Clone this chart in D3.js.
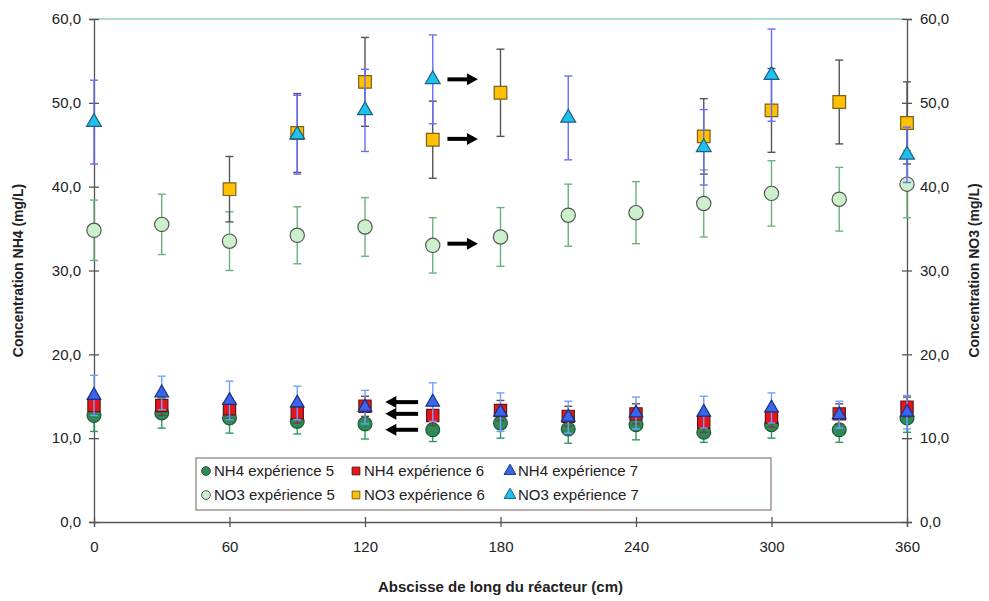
<!DOCTYPE html>
<html><head><meta charset="utf-8">
<script src="https://cdn.jsdelivr.net/npm/d3@7"></script>
<style>body{margin:0;background:#fff}svg{display:block;font-family:"Liberation Sans",Arial,sans-serif}</style>
</head><body><svg id="c" width="989" height="601"></svg>
<script>
const xAll = [0,30,60,90,120,150,180,210,240,270,300,330,360];
const nh4Exp5 = [12.7,13.0,12.4,12.0,11.7,11.0,11.8,11.1,11.6,10.7,11.6,11.0,12.4];
const nh4Exp5Err = [1.9,1.8,1.8,1.5,1.8,1.4,1.8,1.7,1.8,1.2,1.6,1.5,1.7];
const nh4Exp6 = [13.9,13.9,13.5,13.0,13.8,12.7,13.3,12.6,12.9,11.9,12.5,12.9,13.7];
const nh4Exp6Err = [1.2,1.2,1.2,1.2,1.2,1.2,1.2,1.2,1.2,1.2,1.2,1.2,1.2];
const nh4Exp7 = [15.1,15.4,14.5,14.2,13.7,14.3,13.1,12.5,13.0,13.1,13.6,12.8,13.1];
const nh4Exp7Err = [2.4,2.0,2.3,2.0,2.0,2.3,2.3,1.9,1.9,1.9,1.8,1.6,2.0];
const no3Exp5 = [34.8,35.5,33.5,34.2,35.2,33.0,34.0,36.6,36.9,38.0,39.2,38.5,40.3];
const no3Exp5Err = [3.6,3.6,3.5,3.4,3.5,3.3,3.5,3.7,3.7,4.0,3.9,3.8,4.0];
const xNo3Exp6 = [60,90,120,150,180,270,300,330,360];
const no3Exp6 = [39.7,46.4,52.5,45.6,51.2,46.0,49.1,50.1,47.6];
const no3Exp6Err = [3.9,4.7,5.3,4.6,5.2,4.5,5.0,5.0,4.9];
const xNo3Exp7 = [0,90,120,150,210,270,300,360];
const no3Exp7 = [47.7,46.2,49.1,52.8,48.2,44.7,53.3,43.8];
const no3Exp7Err = [5.0,4.7,4.9,5.3,5.0,4.5,5.5,3.3];
const xTicks = [0,60,120,180,240,300,360];
const yTicks = [0,10,20,30,40,50,60];
const arrowsRight = [{x1:156.5,x2:170,y:52.8},{x1:156.5,x2:170,y:45.7},{x1:156.5,x2:170,y:33.2}];
const arrowsLeft = [{x1:143.5,x2:129,y:14.3},{x1:143.5,x2:129,y:12.9},{x1:143.5,x2:129,y:11.0}];

const svg = d3.select("#c");
const L=94, R=907, T=19, B=522;
const x = d3.scaleLinear().domain([0,360]).range([L,R]);
const y = d3.scaleLinear().domain([0,60]).range([B,T]);
const fmt = d => d.toFixed(1).replace(".", ",");

svg.append("line").attr("x1",L).attr("x2",R).attr("y1",T).attr("y2",T).attr("stroke","#8fd0c0").attr("stroke-width",1.5);

const axisColor="#555";
const gl = svg.append("g").attr("transform",`translate(${L},0)`).call(d3.axisLeft(y).tickValues(yTicks).tickFormat(fmt).tickSize(5).tickPadding(8));
const gr = svg.append("g").attr("transform",`translate(${R},0)`).call(d3.axisRight(y).tickValues(yTicks).tickFormat(fmt).tickSize(5).tickPadding(8));
const gb = svg.append("g").attr("transform",`translate(0,${B})`).call(d3.axisBottom(x).tickValues(xTicks).tickFormat(d=>d).tickSize(5).tickPadding(14));
[gl,gr,gb].forEach(g=>{
  g.select(".domain").attr("stroke",axisColor).attr("stroke-width",1.3);
  g.selectAll(".tick line").attr("stroke",axisColor).attr("stroke-width",1.3);
  g.selectAll(".tick text").attr("fill","#222").style("font-size","15px").style("font-family","'Liberation Sans',Arial,sans-serif");
});
gl.selectAll(".tick line").attr("x1",5);
gr.selectAll(".tick line").attr("x1",-5);
gb.selectAll(".tick line").attr("y1",-5);

svg.append("text").attr("x",(L+R)/2).attr("y",592).attr("text-anchor","middle").attr("font-weight","bold").attr("font-size","15px").attr("fill","#222").text("Abscisse de long du réacteur (cm)");
svg.append("text").attr("transform",`translate(23,${(T+B)/2}) rotate(-90)`).attr("text-anchor","middle").attr("font-weight","bold").attr("font-size","14px").attr("fill","#222").text("Concentration NH4 (mg/L)");
svg.append("text").attr("transform",`translate(979,${(T+B)/2}) rotate(-90)`).attr("text-anchor","middle").attr("font-weight","bold").attr("font-size","14px").attr("fill","#222").text("Concentration NO3 (mg/L)");

function series(xs, vals, errs, shape, fill, stroke, errColor, size){
  const data = xs.map((d,i)=>({x:d,v:vals[i],e:errs[i]}));
  const g = svg.append("g");
  const eb = g.selectAll(".eb").data(data).enter().append("g").attr("stroke",errColor).attr("stroke-width",1.4);
  eb.append("line").attr("x1",d=>x(d.x)).attr("x2",d=>x(d.x)).attr("y1",d=>y(d.v+d.e)).attr("y2",d=>y(d.v-d.e));
  eb.append("line").attr("x1",d=>x(d.x)-4).attr("x2",d=>x(d.x)+4).attr("y1",d=>y(d.v+d.e)).attr("y2",d=>y(d.v+d.e));
  eb.append("line").attr("x1",d=>x(d.x)-4).attr("x2",d=>x(d.x)+4).attr("y1",d=>y(d.v-d.e)).attr("y2",d=>y(d.v-d.e));
  const sym = d3.symbol().type(shape).size(size);
  g.selectAll(".m").data(data).enter().append("path").attr("d",sym)
    .attr("transform",d=>`translate(${x(d.x)},${y(d.v)})`)
    .attr("fill",fill).attr("stroke",stroke).attr("stroke-width",1.2);
}

series(xAll,no3Exp5,no3Exp5Err,d3.symbolCircle,"#ccf0cc","#555","#6ab37a",160);
series(xNo3Exp6,no3Exp6,no3Exp6Err,d3.symbolSquare,"#ffc000","#7a6020","#555",160);
series(xNo3Exp7,no3Exp7,no3Exp7Err,d3.symbolTriangle,"#1ec0ee","#1f5f80","#6a6aff",95);
series(xAll,nh4Exp5,nh4Exp5Err,d3.symbolCircle,"#2e8b57","#1d5a3a","#2e9a62",150);
series(xAll,nh4Exp6,nh4Exp6Err,d3.symbolSquare,"#e8141a","#5a1a1a","#704040",150);
series(xAll,nh4Exp7,nh4Exp7Err,d3.symbolTriangle,"#3a66ee","#1a2f80","#70a0ff",80);

function arrow(a){
  const dir = a.x2 > a.x1 ? 1 : -1;
  const xe = x(a.x2), xs = x(a.x1), yy = y(a.y);
  svg.append("line").attr("x1",xs).attr("x2",xe-dir*9).attr("y1",yy).attr("y2",yy).attr("stroke","#000").attr("stroke-width",4);
  svg.append("path").attr("d",`M${xe},${yy} L${xe-dir*11},${yy-6} L${xe-dir*11},${yy+6} Z`).attr("fill","#000");
}
arrowsRight.forEach(arrow);
arrowsLeft.forEach(arrow);

const lg = svg.append("g");
lg.append("rect").attr("x",196).attr("y",458).attr("width",575).attr("height",52).attr("fill","#fff").attr("stroke","#8a7878").attr("stroke-width",1.2);
const legendItems = [
  {t:"NH4 expérience 5",s:d3.symbolCircle,f:"#2e8b57",st:"#1d5a3a",c:0,r:0},
  {t:"NH4 expérience 6",s:d3.symbolSquare,f:"#e8141a",st:"#5a1a1a",c:1,r:0},
  {t:"NH4 expérience 7",s:d3.symbolTriangle,f:"#3a66ee",st:"#1a2f80",c:2,r:0},
  {t:"NO3 expérience 5",s:d3.symbolCircle,f:"#ccf0cc",st:"#555",c:0,r:1},
  {t:"NO3 expérience 6",s:d3.symbolSquare,f:"#ffc000",st:"#7a6020",c:1,r:1},
  {t:"NO3 expérience 7",s:d3.symbolTriangle,f:"#1ec0ee",st:"#1f5f80",c:2,r:1}
];
const colX=[206,356,510], rowY=[471,495];
legendItems.forEach(it=>{
  lg.append("path").attr("d",d3.symbol().type(it.s).size(60)()).attr("transform",`translate(${colX[it.c]},${rowY[it.r]})`).attr("fill",it.f).attr("stroke",it.st).attr("stroke-width",1);
  lg.append("text").attr("x",colX[it.c]+8).attr("y",rowY[it.r]).attr("dy","0.35em").attr("font-size","15px").attr("fill","#222").text(it.t);
});
</script></body></html>
